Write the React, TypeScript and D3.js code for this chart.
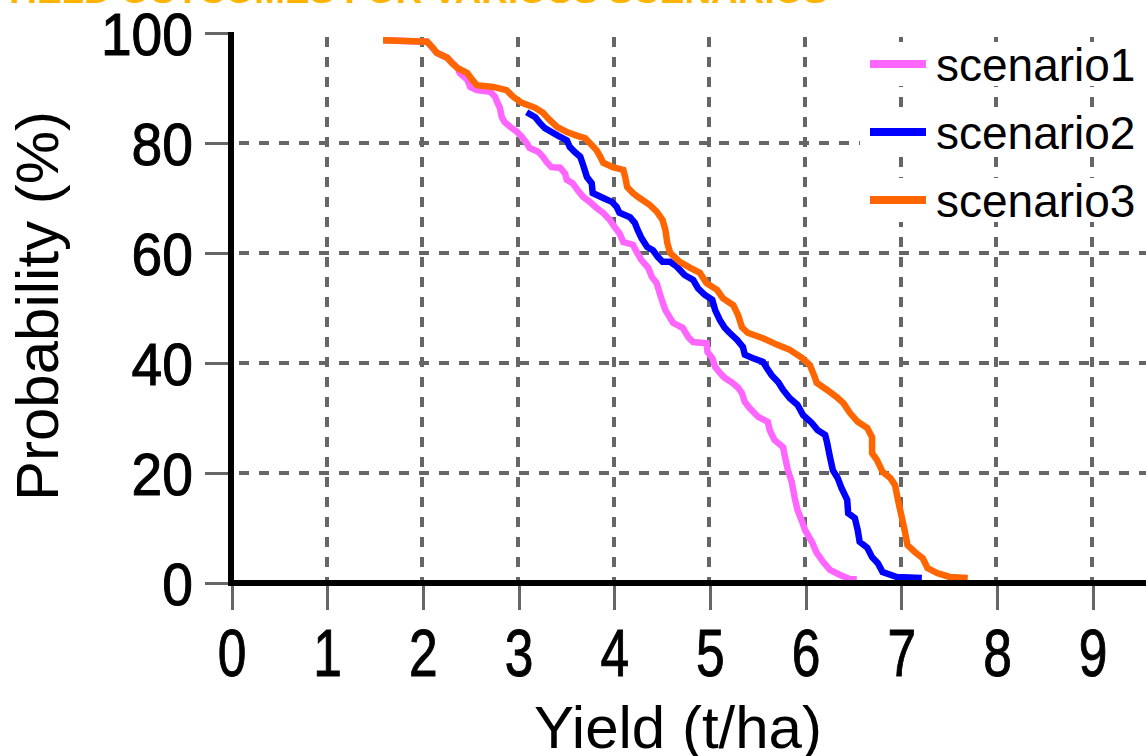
import React, { useRef, useEffect } from "react";
import * as d3 from "d3";

// exceedance curves (yield t/ha, probability %)
const s1Yield = [1.59, 2.05, 2.15, 2.26, 2.37, 2.39, 2.47, 2.5, 2.57, 2.71, 2.76, 2.78, 2.81, 2.83, 2.86, 2.92, 2.99, 3.04, 3.09, 3.12, 3.21, 3.26, 3.3, 3.35, 3.44, 3.49, 3.51, 3.57, 3.62, 3.68, 3.75, 3.82, 3.89, 3.96, 4.01, 4.06, 4.1, 4.2, 4.24, 4.29, 4.36, 4.4, 4.45, 4.48, 4.51, 4.54, 4.62, 4.72, 4.78, 4.83, 4.97, 4.98, 5.03, 5.06, 5.11, 5.16, 5.24, 5.3, 5.34, 5.37, 5.42, 5.51, 5.61, 5.63, 5.68, 5.77, 5.79, 5.82, 5.86, 5.89, 5.92, 5.97, 6.0, 6.07, 6.12, 6.19, 6.26, 6.36, 6.47, 6.54];
const s1Prob = [98.7, 98.4, 96.4, 95.5, 93.6, 92.7, 91.5, 90.2, 89.6, 89.3, 88.4, 87.5, 86.4, 84.7, 83.8, 82.9, 82.0, 81.1, 80.0, 79.1, 78.4, 77.5, 76.5, 75.6, 75.5, 74.5, 73.3, 72.7, 71.5, 70.2, 69.3, 68.2, 67.3, 66.0, 64.7, 63.6, 62.0, 61.5, 60.2, 58.7, 57.3, 55.6, 54.5, 52.7, 51.1, 49.6, 47.3, 46.4, 44.7, 43.8, 43.6, 42.0, 40.9, 39.3, 38.2, 37.3, 36.4, 35.5, 34.5, 32.9, 31.8, 30.2, 29.3, 27.8, 26.0, 24.7, 22.9, 20.5, 18.4, 15.6, 13.3, 11.1, 9.6, 7.5, 5.5, 3.8, 2.4, 1.5, 0.7, 0.7];

const s2Yield = [3.09, 3.18, 3.23, 3.28, 3.35, 3.42, 3.51, 3.54, 3.59, 3.65, 3.68, 3.72, 3.77, 3.78, 3.89, 3.98, 4.03, 4.06, 4.17, 4.22, 4.25, 4.29, 4.35, 4.41, 4.46, 4.51, 4.59, 4.66, 4.74, 4.83, 4.88, 4.95, 5.03, 5.06, 5.11, 5.16, 5.21, 5.29, 5.35, 5.37, 5.45, 5.56, 5.6, 5.65, 5.72, 5.77, 5.84, 5.92, 5.98, 6.07, 6.13, 6.21, 6.23, 6.26, 6.29, 6.34, 6.38, 6.44, 6.45, 6.52, 6.55, 6.57, 6.65, 6.7, 6.76, 6.81, 6.96, 7.22];
const s2Prob = [85.6, 84.7, 83.6, 82.7, 82.0, 81.3, 80.5, 79.3, 78.4, 77.5, 76.0, 73.8, 72.7, 70.9, 70.0, 69.3, 68.4, 67.3, 66.5, 65.5, 64.2, 62.7, 61.1, 60.5, 59.3, 58.4, 58.4, 57.5, 56.0, 55.1, 53.6, 52.4, 51.5, 49.6, 47.8, 46.4, 45.5, 44.2, 42.9, 41.5, 40.9, 40.2, 39.1, 37.8, 36.5, 35.1, 33.6, 32.4, 30.5, 29.1, 27.8, 26.9, 25.5, 22.9, 20.5, 19.1, 17.3, 15.1, 12.7, 11.8, 9.6, 7.5, 6.4, 4.7, 3.6, 2.0, 1.1, 0.9];

const s3Yield = [1.59, 2.05, 2.11, 2.15, 2.26, 2.31, 2.37, 2.47, 2.52, 2.57, 2.74, 2.88, 2.95, 3.04, 3.18, 3.26, 3.33, 3.41, 3.51, 3.62, 3.7, 3.75, 3.82, 3.86, 3.89, 3.99, 4.1, 4.12, 4.14, 4.2, 4.27, 4.38, 4.45, 4.51, 4.54, 4.56, 4.59, 4.69, 4.8, 4.9, 4.97, 5.08, 5.14, 5.25, 5.3, 5.34, 5.4, 5.56, 5.71, 5.84, 5.97, 6.05, 6.1, 6.12, 6.23, 6.33, 6.4, 6.47, 6.55, 6.65, 6.7, 6.7, 6.75, 6.81, 6.89, 6.94, 6.97, 7.01, 7.04, 7.07, 7.15, 7.23, 7.28, 7.38, 7.51, 7.7];
const s3Prob = [98.7, 98.4, 97.3, 96.4, 95.5, 94.5, 93.6, 92.7, 91.5, 90.5, 90.2, 89.6, 88.4, 87.3, 86.4, 85.5, 84.2, 82.9, 82.0, 81.3, 80.9, 80.0, 78.7, 77.5, 76.4, 75.6, 75.1, 73.8, 72.0, 70.9, 70.0, 68.7, 67.5, 66.0, 64.2, 61.8, 60.0, 58.4, 57.3, 56.4, 54.5, 53.3, 51.8, 50.5, 48.7, 46.5, 45.5, 44.5, 43.3, 42.4, 40.9, 39.6, 37.5, 36.4, 35.1, 33.8, 32.7, 30.9, 29.3, 28.2, 26.5, 23.6, 22.4, 20.2, 19.1, 17.8, 15.1, 12.0, 9.6, 6.9, 5.6, 4.5, 2.7, 1.8, 1.1, 0.9];

const seriesNames = ["scenario1", "scenario2", "scenario3"];
const seriesColors = ["#ff66ff", "#0000ff", "#ff6600"];
const xTicks = [0, 1, 2, 3, 4, 5, 6, 7, 8, 9];
const yTicks = [0, 20, 40, 60, 80, 100];

const width = 1146;
const height = 756;
const font = "'Liberation Sans', Arial, sans-serif";

function App() {
  const svgRef = useRef<SVGSVGElement>(null);

  useEffect(() => {
    const svg = d3.select(svgRef.current);
    svg.selectAll("*").remove();

    const x = d3.scaleLinear().domain([0, 9.5]).range([231, 1140]);
    const y = d3.scaleLinear().domain([0, 100]).range([583, 33]);
    const grid = "#666666";

    // title, mostly cut off at the top
    svg
      .append("text")
      .attr("x", 2)
      .attr("y", 3)
      .attr("textLength", 826)
      .attr("lengthAdjust", "spacingAndGlyphs")
      .attr("font-family", font)
      .attr("font-weight", "bold")
      .attr("font-size", 34)
      .attr("fill", "#ffb400")
      .text("YIELD OUTCOMES FOR VARIOUS SCENARIOS");

    // grid
    svg
      .selectAll(".hgrid")
      .data(yTicks.filter((t) => t > 0 && t < 100))
      .join("line")
      .attr("x1", x(0))
      .attr("x2", width)
      .attr("y1", (d) => y(d))
      .attr("y2", (d) => y(d))
      .attr("stroke", grid)
      .attr("stroke-width", 4)
      .attr("shape-rendering", "crispEdges")
      .attr("stroke-dasharray", "10,10")
      .attr("stroke-dashoffset", -8);

    svg
      .selectAll(".vgrid")
      .data(xTicks.filter((t) => t > 0))
      .join("line")
      .attr("x1", (d) => x(d))
      .attr("x2", (d) => x(d))
      .attr("y1", y(100))
      .attr("y2", y(0))
      .attr("stroke", grid)
      .attr("stroke-width", 4)
      .attr("shape-rendering", "crispEdges")
      .attr("stroke-dasharray", "10,10")
      .attr("stroke-dashoffset", -4);

    // tick marks
    svg
      .selectAll(".ytick")
      .data(yTicks)
      .join("line")
      .attr("x1", 205)
      .attr("x2", x(0))
      .attr("y1", (d) => y(d))
      .attr("y2", (d) => y(d))
      .attr("stroke", grid)
      .attr("stroke-width", 3)
      .attr("shape-rendering", "crispEdges");

    svg
      .selectAll(".xtick")
      .data(xTicks)
      .join("line")
      .attr("x1", (d) => x(d) + 1)
      .attr("x2", (d) => x(d) + 1)
      .attr("y1", y(0))
      .attr("y2", 610)
      .attr("stroke", grid)
      .attr("stroke-width", 3)
      .attr("shape-rendering", "crispEdges");

    // legend
    const legendRows = [64, 132, 200];
    const legend = svg
      .selectAll(".legend")
      .data(seriesNames)
      .join("g")
      .attr("transform", (_, i) => `translate(0,${legendRows[i]})`);
    legend
      .append("rect")
      .attr("x", 860)
      .attr("y", -22)
      .attr("width", width - 860)
      .attr("height", 44)
      .attr("fill", "#fff");
    legend
      .append("line")
      .attr("x1", 870)
      .attr("x2", 926)
      .attr("stroke", (_, i) => seriesColors[i])
      .attr("stroke-width", 8)
      .attr("shape-rendering", "crispEdges");
    legend
      .append("text")
      .attr("x", 936)
      .attr("y", 17)
      .attr("font-family", font)
      .attr("font-size", 46)
      .attr("fill", "#000")
      .text((d) => d);

    // curves
    const series = [
      d3.zip(s1Yield, s1Prob),
      d3.zip(s2Yield, s2Prob),
      d3.zip(s3Yield, s3Prob),
    ];
    const line = d3
      .line<number[]>()
      .x((d) => x(d[0]))
      .y((d) => y(d[1]));
    svg
      .selectAll(".curve")
      .data(series)
      .join("path")
      .attr("d", (d) => line(d))
      .attr("fill", "none")
      .attr("stroke", (_, i) => seriesColors[i])
      .attr("stroke-width", 6.5)
      .attr("stroke-linejoin", "miter");

    // axis lines
    svg
      .append("line")
      .attr("x1", x(0))
      .attr("x2", x(0))
      .attr("y1", y(100) - 1)
      .attr("y2", y(0) + 3)
      .attr("stroke", "#000")
      .attr("stroke-width", 6)
      .attr("shape-rendering", "crispEdges");
    svg
      .append("line")
      .attr("x1", x(0) - 3)
      .attr("x2", width)
      .attr("y1", y(0))
      .attr("y2", y(0))
      .attr("stroke", "#000")
      .attr("stroke-width", 6)
      .attr("shape-rendering", "crispEdges");

    // tick labels
    svg
      .selectAll(".ylabel")
      .data(yTicks)
      .join("text")
      .attr("transform", (d) => `translate(193,${y(d) + 22}) scale(0.92,1)`)
      .attr("text-anchor", "end")
      .attr("font-family", font)
      .attr("font-size", 60)
      .attr("fill", "#000")
      .attr("stroke", "#000")
      .attr("stroke-width", 1)
      .text((d) => d);

    svg
      .selectAll(".xlabel")
      .data(xTicks)
      .join("text")
      .attr("transform", (d) => `translate(${x(d) + 1},676) scale(0.78,1)`)
      .attr("text-anchor", "middle")
      .attr("font-family", font)
      .attr("font-size", 66)
      .attr("fill", "#000")
      .attr("stroke", "#000")
      .attr("stroke-width", 1)
      .text((d) => d);

    // axis titles
    svg
      .append("text")
      .attr("x", 678)
      .attr("y", 748)
      .attr("text-anchor", "middle")
      .attr("font-family", font)
      .attr("font-size", 60)
      .attr("fill", "#000")
      .text("Yield (t/ha)");

    svg
      .append("text")
      .attr("transform", "translate(58,306) rotate(-90)")
      .attr("text-anchor", "middle")
      .attr("font-family", font)
      .attr("font-size", 60)
      .attr("fill", "#000")
      .text("Probability (%)");
  }, []);

  return (
    <svg
      ref={svgRef}
      width={width}
      height={height}
      style={{ position: "absolute", left: 0, top: 0, background: "#fff" }}
    />
  );
}

export default App;
